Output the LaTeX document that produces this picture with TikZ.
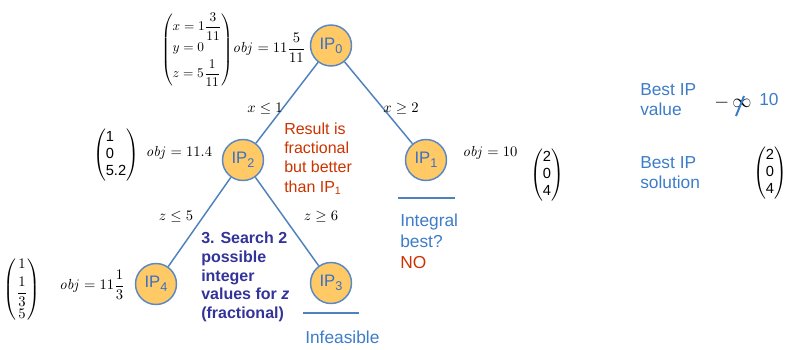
\documentclass[tikz,border=0pt]{standalone}
\usepackage{amsmath}
\usepackage[no-math]{fontspec}
\setmainfont{Liberation Sans}
\definecolor{ipfill}{HTML}{FFC966}
\definecolor{ipborder}{HTML}{5A88C4}
\definecolor{edgeblue}{HTML}{4F81BD}
\definecolor{iptext}{HTML}{3A70C6}
\definecolor{txtblue}{HTML}{3D7CC9}
\definecolor{txtred}{HTML}{CC3300}
\definecolor{dkblue}{HTML}{333399}
\newcommand{\ipsub}[1]{\raisebox{-0.45ex}{\fontsize{9.5}{9.5}\selectfont #1}}
\begin{document}
\begin{tikzpicture}[x=0.75pt,y=-0.75pt,
  ipnode/.style={circle, draw=ipborder, line width=1.1pt, fill=ipfill,
    minimum size=30.75pt, inner sep=0pt, text=iptext,
    font=\fontsize{12.5}{15}\selectfont},
  branch/.style={draw=edgeblue, line width=1.1pt},
  mathlbl/.style={inner sep=0pt, font=\fontsize{11}{13}\selectfont},
  bluetxt/.style={inner sep=0pt, text=txtblue, align=left,
    font=\fontsize{13}{15.5}\selectfont},
  redtxt/.style={inner sep=0pt, text=txtred, align=left,
    font=\fontsize{12}{14.3}\selectfont},
  notetxt/.style={inner sep=0pt, text=dkblue, align=left,
    font=\bfseries\fontsize{12}{14}\selectfont},
  bar/.style={draw=edgeblue, line width=1.1pt}
]
\useasboundingbox (0,0) rectangle (790,350);

% tree nodes
\node[ipnode] (ip0) at (331,45.5) {IP\ipsub{0}};
\node[ipnode] (ip2) at (243,160) {IP\ipsub{2}};
\node[ipnode] (ip1) at (426,160) {IP\ipsub{1}};
\node[ipnode] (ip4) at (156,284) {IP\ipsub{4}};
\node[ipnode] (ip3) at (331,283) {IP\ipsub{3}};

\draw[branch] (ip0) -- (ip2);
\draw[branch] (ip0) -- (ip1);
\draw[branch] (ip2) -- (ip4);
\draw[branch] (ip2) -- (ip3);

% branch labels
\node[mathlbl] (l1) at (265,109) {$x\le 1$};
\node[mathlbl] (l2) at (401,109) {$x\ge 2$};
\node[mathlbl] (l3) at (176,217) {$z\le 5$};
\node[mathlbl] (l4) at (321,217) {$z\ge 6$};

% IP0 data
\node[mathlbl, font=\fontsize{10}{12}\selectfont] (v0) at (197,50) {$\left(\begin{array}{@{}l@{}}x=1\dfrac{3}{11}\\[3pt] y=0\\[3pt] z=5\dfrac{1}{11}\end{array}\right)$};
\node[mathlbl] (o0) at (269,48) {$\mathit{obj}=11\dfrac{5}{11}$};

% IP2 data
\node[mathlbl] (v2) at (116,155) {$\left(\begin{array}{@{}l@{}}\text{1}\\ \text{0}\\ \text{5.2}\end{array}\right)$};
\node[mathlbl] (o2) at (179,153) {$\mathit{obj}=11.4$};

% IP4 data
\node[mathlbl] (v4) at (22,290) {$\left(\begin{array}{@{}c@{}}1\\[3pt] \dfrac{1}{3}\\[3pt] 5\end{array}\right)$};
\node[mathlbl] (o4) at (92,285) {$\mathit{obj}=11\dfrac{1}{3}$};

% IP1 data
\node[mathlbl] (o1) at (490,153) {$\mathit{obj}=10$};
\node[mathlbl] (v1) at (547,175) {$\left(\begin{array}{@{}c@{}}\text{2}\\ \text{0}\\ \text{4}\end{array}\right)$};

% annotations
\node[redtxt, anchor=north west] (res) at (284,123) {Result is\\fractional\\but better\\than IP\textsubscript{1}};
\draw[bar] (398,198) -- (455,198);
\node[bluetxt, anchor=north west] (intg) at (400,214) {Integral\\best?\\\textcolor{txtred}{NO}};
\node[notetxt, anchor=north west] (note) at (201,232) {3. Search 2\\possible\\integer\\values for \textit{z}\\(fractional)};
\draw[bar] (303,313) -- (359,313);
\node[bluetxt, anchor=north west] (inf) at (305,331) {Infeasible};

% best IP panel
\node[bluetxt, anchor=north west] (bv) at (640,83) {Best IP\\value};
\node[inner sep=0pt, font=\fontsize{14}{16}\selectfont] (minf) at (733,103) {$-\,\infty$};
\draw[draw=txtblue, line width=1.5pt] (736,116) -- (744,96);
\node[bluetxt, anchor=west] (ten) at (759,100) {10};
\node[bluetxt, anchor=north west] (bs) at (640,156) {Best IP\\solution};
\node[mathlbl] (vb) at (770,173) {$\left(\begin{array}{@{}c@{}}\text{2}\\ \text{0}\\ \text{4}\end{array}\right)$};
\end{tikzpicture}
\end{document}
